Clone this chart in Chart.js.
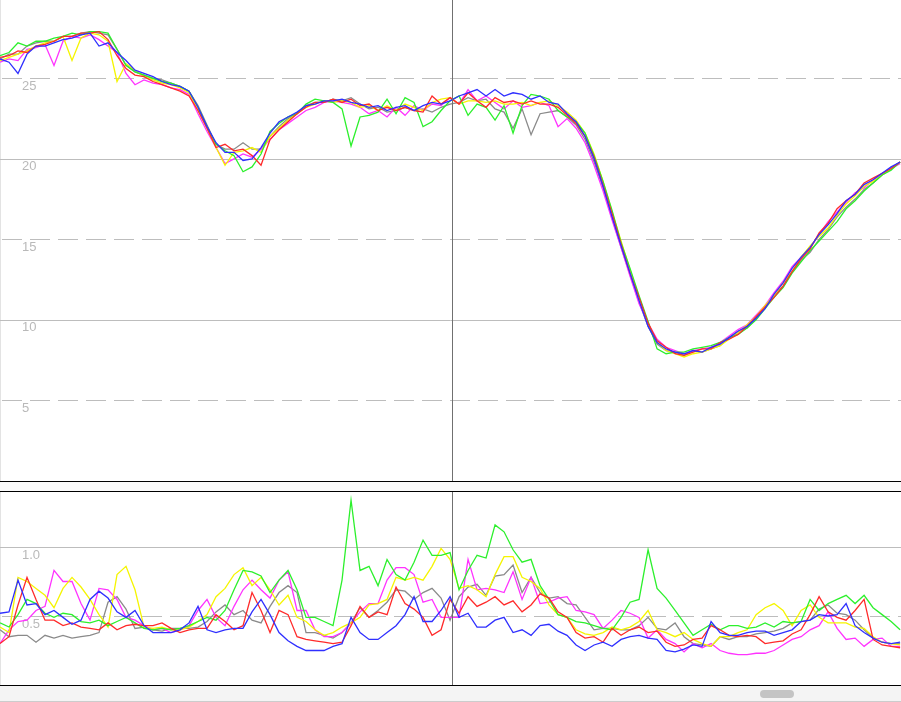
<!DOCTYPE html>
<html><head><meta charset="utf-8">
<script src="https://cdn.jsdelivr.net/npm/chart.js@4"></script>
<style>
html,body{margin:0;padding:0;background:#fff;width:901px;height:702px;overflow:hidden;position:relative}
#topWrap{position:absolute;left:0;top:0;width:901px;height:481px}
#sep{position:absolute;left:0;top:481px;width:901px;height:11px;box-sizing:border-box;border-top:1px solid #000;border-bottom:1px solid #000;background:#fafafa}
#botWrap{position:absolute;left:0;top:492px;width:901px;height:193px}
#botLine{position:absolute;left:0;top:685px;width:901px;height:1px;background:#000}
#scroll{position:absolute;left:0;top:686px;width:901px;height:16px;box-sizing:border-box;background:#f4f4f4;border-bottom:1px solid #cccccc}
#thumb{position:absolute;left:760px;top:4px;width:34px;height:8px;border-radius:4px;background:#c4c4c4}
canvas{display:block}
</style></head>
<body>
<div id="topWrap"><canvas id="cTop" width="901" height="481" style="width:901px;height:481px"></canvas></div>
<div id="sep"></div>
<div id="botWrap"><canvas id="cBot" width="901" height="193" style="width:901px;height:193px"></canvas></div>
<div id="botLine"></div>
<div id="scroll"><div id="thumb"></div></div>
<script>
// x categories (sample index)
const xIdx = Array.from({length: 101}, (_, i) => i);
const cursorX = 50.2;

// upper panel tick values / labels
const topTicks = [5, 10, 15, 20, 25];
const topTickLabels = ['5', '10', '15', '20', '25'];
// lower panel tick values / labels
const botTicks = [0.5, 1.0];
const botTickLabels = ['0.5', '1.0'];

const seriesNames = ['blue', 'red', 'green', 'yellow', 'magenta', 'gray'];

// ---------- upper panel series ----------
const topBlue = [26.2,26.0,25.3,26.5,27.0,27.0,27.2,27.4,27.5,27.7,
27.8,27.0,27.2,26.6,26.1,25.5,25.3,25.1,24.8,24.6,
24.5,24.2,23.2,22.0,21.0,20.4,20.4,19.9,20.0,20.7,
21.6,22.3,22.6,22.9,23.3,23.4,23.6,23.6,23.7,23.5,
23.4,23.2,23.3,23.0,23.2,23.3,23.0,23.3,23.5,23.4,
23.6,23.9,24.1,24.3,23.9,24.3,23.9,24.1,24.0,23.7,
23.9,23.5,23.4,22.8,22.3,21.4,20.0,18.3,16.4,14.6,
12.9,11.2,9.6,8.6,8.2,8.0,7.9,8.1,8.0,8.3,
8.5,8.9,9.3,9.6,10.1,10.7,11.6,12.3,13.2,13.9,
14.5,15.3,15.9,16.6,17.4,17.8,18.4,18.7,19.1,19.5,
19.8];
const topRed = [26.3,26.4,26.7,26.6,27.0,27.1,27.3,27.6,27.6,27.8,
27.8,27.9,27.4,26.4,25.6,25.2,25.1,24.8,24.6,24.4,
24.2,23.9,23.0,21.9,20.7,20.9,20.5,20.6,20.2,19.6,
21.2,21.8,22.3,22.8,23.2,23.5,23.5,23.7,23.5,23.7,
23.3,23.4,23.0,23.2,23.0,23.2,23.0,22.9,23.9,23.4,
23.8,23.4,24.1,23.6,23.2,23.8,23.5,23.6,23.4,23.6,
23.4,23.4,23.2,22.7,22.2,21.4,20.1,18.4,16.6,14.7,
12.9,11.4,9.8,8.7,8.3,7.9,7.8,8.0,8.2,8.2,
8.6,8.8,9.1,9.6,10.2,10.8,11.4,12.1,13.0,13.8,
14.4,15.4,16.0,16.9,17.4,17.8,18.5,18.8,19.1,19.4,
19.8];
const topGreen = [26.4,26.6,27.2,27.0,27.3,27.3,27.5,27.6,27.8,27.7,
27.9,27.9,27.8,26.8,25.8,25.4,25.2,25.0,24.8,24.7,
24.5,24.2,23.2,22.0,20.9,20.5,20.2,19.2,19.5,20.3,
21.7,22.2,22.6,22.8,23.4,23.7,23.6,23.5,23.1,20.8,
22.6,22.7,22.9,23.7,22.8,23.8,23.5,22.0,22.3,23.0,
23.6,23.9,22.7,23.4,23.2,22.4,23.3,21.6,23.3,24.0,
23.9,23.7,23.0,22.6,22.3,21.6,20.2,18.6,16.8,14.8,
13.2,11.5,9.9,8.2,7.9,8.0,8.0,8.2,8.3,8.4,
8.6,8.9,9.1,9.5,10.0,10.7,11.4,12.0,12.9,13.6,
14.3,14.9,15.5,16.1,16.9,17.4,18.0,18.5,19.0,19.3,
19.8];
const topYellow = [26.1,26.3,26.5,26.7,27.0,27.2,27.3,27.6,26.1,27.5,
27.8,27.7,27.3,24.8,25.9,25.5,25.1,24.9,24.7,24.6,
24.4,24.1,23.0,21.9,20.7,19.6,20.4,20.5,20.7,20.4,
21.4,21.9,22.4,22.8,23.2,23.4,23.6,23.5,23.6,23.5,
23.2,23.3,23.0,23.3,23.0,23.4,23.2,23.0,23.5,23.7,
23.8,23.4,23.6,23.6,23.5,23.6,23.4,23.4,23.5,23.3,
23.5,23.6,23.3,22.9,22.4,21.6,20.3,18.6,16.7,14.9,
13.1,11.4,9.8,8.6,8.1,7.9,7.7,7.9,8.0,8.2,
8.4,8.8,9.2,9.7,10.2,10.9,11.5,12.3,13.0,13.9,
14.6,15.2,15.7,16.5,17.2,17.7,18.3,18.6,19.0,19.4,
19.8];
const topMagenta = [26.0,26.2,26.1,26.8,26.9,27.1,25.8,27.3,27.6,27.5,
27.7,27.4,27.0,26.6,25.3,24.6,24.9,24.7,24.6,24.4,
24.3,24.0,22.8,21.7,20.7,19.7,20.0,20.3,20.1,20.6,
21.2,21.8,22.2,22.6,23.0,23.2,23.5,23.6,23.5,23.4,
23.2,22.8,23.0,22.6,23.2,22.7,23.3,23.0,23.4,23.3,
23.8,23.4,24.3,23.6,23.9,23.5,23.1,23.6,23.2,23.3,
23.5,23.3,22.0,22.5,21.9,21.0,19.6,18.0,16.2,14.5,
12.7,11.0,9.8,8.8,8.3,8.1,7.9,8.1,8.2,8.3,
8.6,9.0,9.4,9.7,10.3,10.9,11.7,12.4,13.3,13.9,
14.5,15.3,16.1,16.7,17.3,17.9,18.2,18.7,19.0,19.4,
19.7];
const topGray = [26.2,26.5,26.5,27.0,27.2,27.3,27.3,27.6,27.6,27.8,
27.9,27.8,27.7,26.8,25.8,25.4,25.2,25.0,24.9,24.7,
24.5,24.2,23.3,22.1,20.9,20.6,20.6,21.0,20.6,20.6,
21.4,22.0,22.5,22.8,23.3,23.5,23.5,23.7,23.6,23.8,
23.4,23.1,23.2,22.9,23.0,23.2,23.0,23.1,22.9,23.2,
23.4,23.5,23.8,23.6,23.7,23.1,22.9,21.9,23.1,21.5,
22.8,22.9,23.0,22.6,22.1,21.2,19.8,18.2,16.3,14.5,
12.8,11.1,9.6,8.5,8.1,8.0,7.8,8.1,8.0,8.2,
8.4,8.9,9.3,9.5,10.1,10.8,11.5,12.1,13.0,13.7,
14.2,15.0,15.6,16.4,17.0,17.5,18.1,18.5,19.0,19.4,
19.8];

// ---------- lower panel series ----------
const botBlue = [0.52,0.53,0.76,0.58,0.59,0.51,0.54,0.49,0.44,0.47,
0.62,0.68,0.63,0.53,0.49,0.54,0.43,0.38,0.38,0.38,
0.40,0.45,0.57,0.40,0.38,0.40,0.41,0.41,0.53,0.62,
0.51,0.38,0.32,0.28,0.25,0.25,0.25,0.28,0.30,0.49,
0.38,0.33,0.33,0.38,0.43,0.51,0.64,0.46,0.46,0.54,
0.64,0.49,0.52,0.42,0.42,0.47,0.49,0.38,0.40,0.36,
0.43,0.44,0.39,0.36,0.29,0.25,0.29,0.31,0.28,0.33,
0.35,0.36,0.34,0.33,0.25,0.24,0.26,0.29,0.28,0.46,
0.38,0.36,0.36,0.38,0.39,0.39,0.36,0.38,0.40,0.46,
0.47,0.51,0.50,0.51,0.59,0.43,0.38,0.34,0.31,0.30,
0.31];
const botRed = [0.30,0.35,0.58,0.78,0.62,0.47,0.47,0.43,0.45,0.42,
0.41,0.40,0.45,0.40,0.43,0.44,0.43,0.43,0.45,0.41,
0.38,0.40,0.41,0.41,0.51,0.46,0.40,0.43,0.67,0.54,
0.38,0.54,0.51,0.35,0.33,0.32,0.31,0.30,0.31,0.43,
0.57,0.49,0.53,0.51,0.71,0.59,0.55,0.49,0.36,0.40,
0.62,0.52,0.64,0.57,0.60,0.64,0.58,0.61,0.53,0.58,
0.66,0.63,0.53,0.49,0.38,0.34,0.35,0.31,0.41,0.36,
0.40,0.42,0.38,0.39,0.31,0.28,0.29,0.33,0.34,0.43,
0.40,0.36,0.35,0.36,0.35,0.30,0.31,0.32,0.37,0.40,
0.51,0.64,0.53,0.49,0.47,0.54,0.62,0.33,0.29,0.28,
0.27];
const botGreen = [0.45,0.42,0.51,0.62,0.59,0.52,0.49,0.52,0.51,0.46,
0.45,0.47,0.43,0.46,0.49,0.45,0.41,0.40,0.41,0.40,
0.41,0.43,0.46,0.49,0.47,0.54,0.69,0.83,0.82,0.79,
0.67,0.76,0.83,0.69,0.49,0.49,0.46,0.43,0.76,1.34,
0.83,0.86,0.72,0.91,0.80,0.76,0.89,1.05,0.94,0.94,
0.96,0.69,0.83,0.94,0.92,1.16,1.11,0.98,0.89,0.91,
0.72,0.62,0.51,0.49,0.46,0.45,0.43,0.41,0.40,0.49,
0.60,0.62,0.98,0.70,0.63,0.54,0.45,0.36,0.40,0.44,
0.40,0.43,0.43,0.41,0.42,0.45,0.42,0.46,0.45,0.46,
0.62,0.54,0.59,0.62,0.65,0.59,0.65,0.56,0.51,0.46,
0.40];
const botYellow = [0.42,0.38,0.78,0.75,0.70,0.65,0.56,0.70,0.78,0.71,
0.62,0.51,0.42,0.80,0.86,0.69,0.42,0.41,0.42,0.40,
0.40,0.42,0.46,0.51,0.64,0.70,0.80,0.85,0.72,0.78,
0.69,0.58,0.65,0.49,0.46,0.40,0.36,0.38,0.42,0.45,
0.49,0.58,0.59,0.62,0.78,0.76,0.78,0.76,0.86,0.99,
0.91,0.70,0.72,0.69,0.64,0.80,0.93,0.93,0.78,0.75,
0.70,0.58,0.51,0.49,0.40,0.37,0.36,0.38,0.42,0.40,
0.42,0.46,0.54,0.40,0.38,0.35,0.38,0.33,0.30,0.28,
0.35,0.35,0.38,0.40,0.51,0.56,0.59,0.54,0.43,0.54,
0.58,0.49,0.45,0.45,0.45,0.42,0.41,0.35,0.31,0.30,
0.29];
const botMagenta = [0.30,0.40,0.46,0.47,0.54,0.57,0.83,0.75,0.75,0.59,
0.47,0.70,0.69,0.62,0.49,0.47,0.43,0.40,0.41,0.38,
0.40,0.43,0.54,0.62,0.49,0.43,0.57,0.69,0.76,0.69,
0.63,0.76,0.82,0.54,0.54,0.40,0.35,0.35,0.38,0.45,
0.53,0.59,0.59,0.76,0.85,0.85,0.80,0.60,0.62,0.49,
0.49,0.49,0.91,0.69,0.70,0.69,0.67,0.82,0.62,0.78,
0.59,0.60,0.63,0.64,0.54,0.53,0.51,0.41,0.47,0.54,
0.52,0.49,0.34,0.40,0.33,0.30,0.24,0.30,0.27,0.30,
0.25,0.23,0.22,0.22,0.23,0.23,0.25,0.29,0.33,0.35,
0.40,0.43,0.53,0.41,0.33,0.34,0.28,0.33,0.34,0.28,
0.28];
const botGray = [0.40,0.35,0.36,0.36,0.31,0.36,0.34,0.36,0.34,0.35,
0.36,0.38,0.60,0.64,0.55,0.41,0.42,0.40,0.39,0.41,
0.41,0.41,0.42,0.46,0.53,0.58,0.51,0.54,0.47,0.45,
0.57,0.67,0.72,0.67,0.38,0.38,0.36,0.34,0.38,0.45,
0.56,0.49,0.54,0.60,0.69,0.68,0.62,0.67,0.70,0.63,
0.47,0.64,0.71,0.73,0.65,0.79,0.80,0.87,0.67,0.78,
0.67,0.63,0.64,0.59,0.58,0.49,0.40,0.41,0.41,0.40,
0.40,0.43,0.49,0.41,0.40,0.45,0.35,0.30,0.29,0.28,
0.35,0.33,0.35,0.35,0.37,0.38,0.39,0.41,0.45,0.46,
0.47,0.55,0.58,0.52,0.51,0.47,0.40,0.34,0.31,0.30,
0.30];

const colors = ['#2f2fff', '#ff2a2a', '#2cf02c', '#f5f500', '#ff33ff', '#8a8a8a'];

const panelPlugin = {
  id: 'panelDecor',
  beforeDatasetsDraw(chart, args, opts) {
    const {ctx, chartArea} = chart;
    const ys = chart.scales.y;
    ctx.save();
    ctx.lineWidth = 1;
    ctx.strokeStyle = '#e3e3e3';
    ctx.beginPath(); ctx.moveTo(0.5, chartArea.top); ctx.lineTo(0.5, chartArea.bottom); ctx.stroke();
    opts.ticks.forEach((v) => {
      const py = Math.round(ys.getPixelForValue(v)) + 0.5;
      const dashed = opts.dashed.includes(v);
      ctx.setLineDash(dashed ? [20, 8] : []);
      ctx.lineDashOffset = -2;
      ctx.strokeStyle = '#bdbdbd';
      ctx.beginPath(); ctx.moveTo(chartArea.left, py); ctx.lineTo(chartArea.right, py); ctx.stroke();
    });
    ctx.setLineDash([]);
    ctx.fillStyle = '#b9b9b9';
    ctx.font = '13px "Liberation Sans", Arial, sans-serif';
    ctx.textBaseline = 'middle';
    ctx.textAlign = 'left';
    opts.ticks.forEach((v, i) => ctx.fillText(opts.labels[i], 22, ys.getPixelForValue(v) + 8));
    ctx.restore();
  },
  afterDatasetsDraw(chart, args, opts) {
    const {ctx, chartArea} = chart;
    const px = Math.round(chart.scales.x.getPixelForValue(opts.cursor)) + 0.5;
    ctx.save();
    ctx.strokeStyle = '#707070';
    ctx.lineWidth = 1;
    ctx.beginPath(); ctx.moveTo(px, chartArea.top); ctx.lineTo(px, chartArea.bottom); ctx.stroke();
    ctx.restore();
  }
};

function makePanel(canvasId, seriesList, yMax, ticks, labels, dashed) {
  return new Chart(document.getElementById(canvasId), {
    type: 'line',
    data: {
      datasets: seriesList.map((arr, k) => ({
        label: seriesNames[k],
        data: arr.map((v, i) => ({x: xIdx[i], y: v})),
        borderColor: colors[k],
        borderWidth: 1.3,
        pointRadius: 0,
        fill: false,
        tension: 0
      }))
    },
    options: {
      responsive: false,
      animation: false,
      events: [],
      layout: {padding: 0},
      scales: {
        x: {type: 'linear', min: 0, max: 100.1, display: false},
        y: {type: 'linear', min: 0, max: yMax, display: false}
      },
      plugins: {
        legend: {display: false},
        tooltip: {enabled: false},
        panelDecor: {ticks: ticks, labels: labels, dashed: dashed, cursor: cursorX}
      }
    },
    plugins: [panelPlugin]
  });
}

makePanel('cTop', [topBlue, topRed, topGreen, topYellow, topMagenta, topGray], 29.86,
  topTicks, topTickLabels, [5, 15, 25]);
makePanel('cBot', [botBlue, botRed, botGreen, botYellow, botMagenta, botGray], 1.3986,
  botTicks, botTickLabels, [0.5]);
</script>
</body></html>
